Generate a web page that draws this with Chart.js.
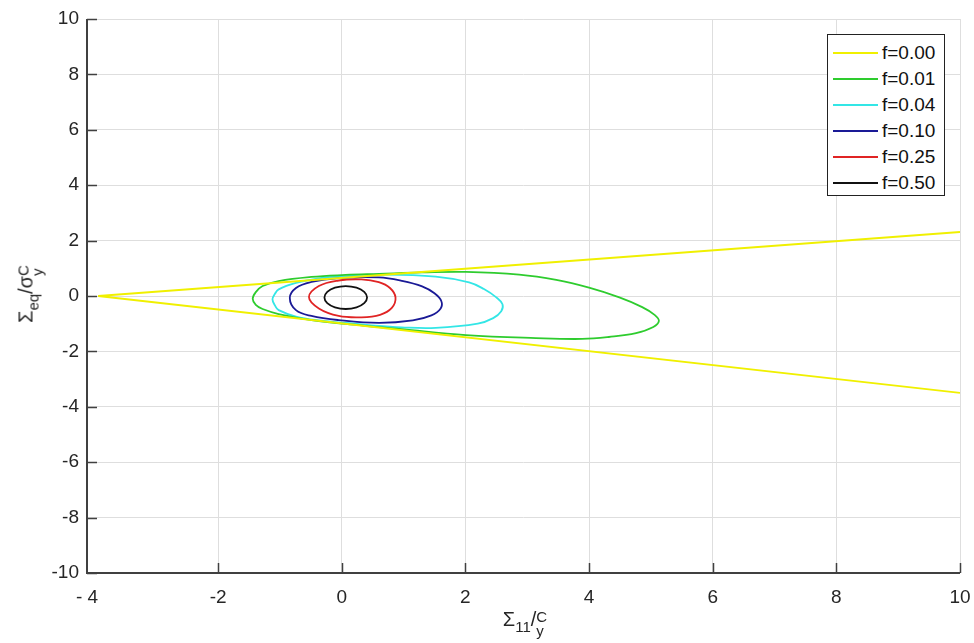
<!DOCTYPE html>
<html><head><meta charset="utf-8">
<script src="https://cdn.jsdelivr.net/npm/chart.js@4.4.1/dist/chart.umd.min.js"></script>
<style>
html,body{margin:0;padding:0;background:#fff;}
#wrap{position:relative;width:974px;height:643px;overflow:hidden;}
#c{position:absolute;left:0;top:0;}
.t{position:absolute;font-family:"Liberation Sans",Arial,sans-serif;color:#262626;white-space:nowrap;font-size:20px;line-height:1;}
.t sub{font-size:15px;vertical-align:-6px;line-height:0;}
.st{display:inline-block;vertical-align:-10px;font-size:15px;line-height:14px;text-align:left;}
.st span{display:block;}
#xt{left:525px;top:609px;transform:translateX(-50%);}
#yt{left:30px;top:294px;transform:translate(-50%,-50%) rotate(-90deg);}
#leg{position:absolute;left:827px;top:34px;width:118px;height:162px;border:1.5px solid #222;background:#fff;box-sizing:border-box;padding-top:5px;}
.row{height:26px;display:flex;align-items:center;font-family:"Liberation Sans",Arial,sans-serif;font-size:19px;color:#111;}
.sw{width:45px;height:2px;margin-left:5px;margin-right:4px;}
</style></head><body>
<div id="wrap">
<canvas id="c" width="974" height="643"></canvas>
<div id="xt" class="t">Σ<sub>11</sub>/<span class="st"><span>C</span><span>y</span></span></div>
<div id="yt" class="t">Σ<sub>eq</sub>/σ<span class="st"><span>C</span><span>y</span></span></div>
<div id="leg"></div>
</div>
<script>
// ---- data ----
const seriesNames = ['f=0.00','f=0.01','f=0.04','f=0.10','f=0.25','f=0.50'];
const seriesColors = ['#f0f000','#2ecc2e','#33e6e6','#1a1a96','#e02424','#111111'];
const f000 = [[10,2.31],[-3.94,0],[10,-3.5]];
const f001 = [[-1.44,-0.10],[-1.39,0.14],[-1.28,0.36],[-1.02,0.54],[-0.49,0.69],[0.06,0.76],[0.60,0.80],[1.30,0.85],[2.01,0.87],[2.87,0.77],[3.47,0.58],[4.00,0.30],[4.49,-0.05],[4.86,-0.40],[5.06,-0.68],[5.13,-0.90],[5.04,-1.12],[4.76,-1.34],[4.32,-1.48],[3.89,-1.55],[3.14,-1.52],[2.01,-1.41],[0.97,-1.20],[0.60,-1.12],[0.06,-1.01],[-0.49,-0.87],[-1.02,-0.65],[-1.28,-0.47],[-1.39,-0.32]];
const f004 = [[-1.12,-0.12],[-1.08,0.08],[-1.02,0.24],[-0.74,0.47],[-0.37,0.64],[0.06,0.72],[0.60,0.77],[1.52,0.70],[2.06,0.49],[2.30,0.25],[2.50,-0.05],[2.60,-0.30],[2.58,-0.55],[2.45,-0.80],[2.20,-1.00],[1.52,-1.15],[0.97,-1.13],[0.44,-1.05],[0.06,-0.97],[-0.37,-0.88],[-0.74,-0.74],[-1.02,-0.51],[-1.08,-0.34]];
const f010 = [[-0.84,-0.07],[-0.74,0.29],[-0.49,0.51],[-0.05,0.65],[0.60,0.67],[0.97,0.55],[1.30,0.35],[1.50,0.10],[1.61,-0.18],[1.60,-0.45],[1.45,-0.70],[1.15,-0.88],[0.60,-0.97],[-0.05,-0.87],[-0.49,-0.72],[-0.74,-0.51]];
const f025 = [[-0.53,-0.04],[-0.37,0.36],[-0.05,0.56],[0.32,0.60],[0.60,0.50],[0.78,0.29],[0.87,-0.05],[0.81,-0.43],[0.62,-0.68],[0.32,-0.77],[-0.05,-0.72],[-0.37,-0.45]];
const f050 = [[0.41,-0.055],[0.364,0.15],[0.24,0.30],[0.065,0.36],[-0.11,0.30],[-0.234,0.15],[-0.28,-0.055],[-0.234,-0.26],[-0.11,-0.41],[0.065,-0.47],[0.24,-0.41],[0.364,-0.26]];
const seriesData = [f000,f001,f004,f010,f025,f050];
const seriesClosed = [false,true,true,true,true,true];
const xMin = -4.12, xMax = 10, yMin = -10, yMax = 10;
const xTickValues = [-4.12,-2,0,2,4,6,8,10];
const xTickLabels = ['- 4','-2','0','2','4','6','8','10'];
const yTickValues = [-10,-8,-6,-4,-2,0,2,4,6,8,10];
const yTickLabels = ['-10','-8','-6','-4','-2','0','2','4','6','8','10'];

// ---- legend (HTML) ----
const leg = document.getElementById('leg');
seriesNames.forEach((n,i)=>{
  const r=document.createElement('div'); r.className='row';
  const s=document.createElement('div'); s.className='sw'; s.style.background=seriesColors[i];
  const t=document.createElement('span'); t.textContent=n;
  r.appendChild(s); r.appendChild(t); leg.appendChild(r);
});

const loopPlugin = {
  id:'loopClose',
  beforeDatasetsDraw(chart){
    chart.data.datasets.forEach((ds,i)=>{
      if(!ds.closedLoop) return;
      const line = chart.getDatasetMeta(i).dataset;
      if(!line) return;
      line._loop = true; line._fullLoop = true;
      line._pointsUpdated = false; line._segments = undefined; line._path = undefined;
    });
  }
};
const tickPlugin = {
  id:'innerTicks',
  afterDatasetsDraw(chart){
    const {ctx, chartArea:a, scales:{x,y}} = chart;
    ctx.save();
    ctx.strokeStyle='#404040'; ctx.lineWidth=1.5;
    ctx.beginPath();
    xTickValues.forEach(v=>{ if(v<=xMin) return; const px=Math.round(x.getPixelForValue(v))+0.5; ctx.moveTo(px,a.bottom); ctx.lineTo(px,a.bottom-10); });
    yTickValues.forEach(v=>{ const py=Math.round(y.getPixelForValue(v))+0.5; ctx.moveTo(a.left,py); ctx.lineTo(a.left+10,py); });
    ctx.stroke();
    ctx.lineWidth=2;
    ctx.beginPath();
    ctx.moveTo(a.left,a.top); ctx.lineTo(a.left,a.bottom); ctx.lineTo(a.right,a.bottom);
    ctx.stroke();
    ctx.restore();
  }
};

const datasets = seriesNames.map((n,i)=>({
  label:n,
  data: seriesData[i].map(p=>({x:p[0],y:p[1]})),
  borderColor: seriesColors[i],
  backgroundColor: seriesColors[i],
  borderWidth: 1.8,
  pointRadius: 0,
  tension: seriesClosed[i] ? 0.4 : 0,
  fill:false,
  closedLoop: seriesClosed[i]
}));

const tickFont = {family:'"Liberation Sans", Arial, sans-serif', size:19};
new Chart(document.getElementById('c'), {
  type:'line',
  data:{datasets},
  options:{
    responsive:false, animation:false, devicePixelRatio:1,
    layout:{padding:{left:0,right:14,top:19,bottom:0}},
    plugins:{legend:{display:false}, tooltip:{enabled:false}},
    scales:{
      x:{type:'linear', min:xMin, max:xMax,
        afterBuildTicks(s){ s.ticks = xTickValues.map(v=>({value:v})); },
        afterFit(s){ s.height = 70; },
        grid:{color:'#dedede', lineWidth:1, drawTicks:true, tickLength:13, tickColor:'rgba(0,0,0,0)'},
        border:{display:false},
        ticks:{autoSkip:false, maxRotation:0, padding:0, color:'#262626', font:tickFont,
          callback(v,idx){ return xTickLabels[idx]; }}
      },
      y:{type:'linear', min:yMin, max:yMax,
        afterBuildTicks(s){ s.ticks = yTickValues.map(v=>({value:v})); },
        afterFit(s){ s.width = 87; },
        grid:{color:'#dedede', lineWidth:1, drawTicks:true, tickLength:8, tickColor:'rgba(0,0,0,0)'},
        border:{display:false},
        ticks:{autoSkip:false, padding:0, color:'#262626', font:tickFont,
          callback(v,idx){ return yTickLabels[idx]; }}
      }
    }
  },
  plugins:[loopPlugin, tickPlugin]
});
</script>
</body></html>
